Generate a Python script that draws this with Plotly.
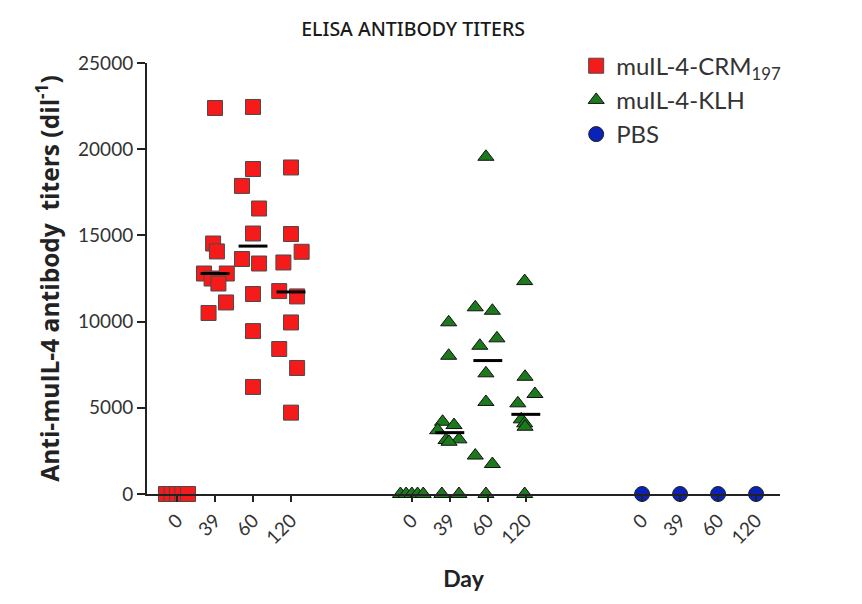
import plotly.graph_objects as go

# tick labels and groups
days = ["0", "39", "60", "120"]
groups = ["muIL-4-CRM<sub>197</sub>", "muIL-4-KLH", "PBS"]

# muIL-4-CRM197 titers per day
crm_d0 = [0, 0, 0, 0, 0]
crm_d39 = [22390, 14530, 14070, 12790, 12790, 12500, 12210, 11110, 10500]
crm_d60 = [22450, 18850, 17870, 16560, 15110, 13630, 13370, 11600, 9450, 6210]
crm_d120 = [18940, 15080, 14050, 13430, 11770, 11460, 9950, 8410, 7310, 4720]
crm_median = [12790, 14380, 11720]   # days 39, 60, 120

# muIL-4-KLH titers per day
klh_d0 = [0, 0, 0, 0, 0]
klh_d39 = [9960, 8020, 4190, 4000, 3700, 3130, 3170, 3030, 0, 0]
klh_d60 = [19560, 10830, 10630, 9030, 8600, 7000, 5340, 2230, 1740, 0]
klh_d120 = [12350, 6800, 5800, 5260, 4330, 4100, 3900, 0]
klh_median = [3560, 7740, 4620]

# PBS titers per day
pbs_d = [0, 0, 0, 0]

# horizontal scatter of the points (fraction of the day spacing)
crm_j = [[-0.29, -0.14, 0, 0.14, 0.29],
         [0, -0.05, 0.05, -0.29, 0.31, -0.09, 0.09, 0.29, -0.17],
         [0, 0, -0.29, 0.16, 0, -0.29, 0.16, 0, 0, 0],
         [0, 0, 0.28, -0.2, -0.31, 0.16, 0, -0.31, 0.16, 0]]
klh_j = [[-0.3, -0.15, 0, 0.15, 0.3],
         [-0.03, -0.03, -0.19, 0.11, -0.32, -0.1, 0.24, -0.02, -0.21, 0.24],
         [-0.05, -0.33, 0.12, 0.24, -0.21, -0.05, -0.05, -0.33, 0.12, -0.05],
         [-0.03, -0.02, 0.24, -0.21, -0.12, -0.03, -0.02, -0.03]]

base = [0, 6.18, 12.24]


def spread(g, cols, jit):
    xs, ys = [], []
    for i, vals in enumerate(cols):
        for v, j in zip(vals, jit[i]):
            xs.append(base[g] + i + j)
            ys.append(v)
    return xs, ys


def median_line(g, meds):
    xs, ys = [], []
    for i, m in enumerate(meds):
        xs += [base[g] + i + 1 - 0.38, base[g] + i + 1 + 0.38, None]
        ys += [m, m, None]
    return xs, ys


fig = go.Figure()

x, y = spread(0, [crm_d0, crm_d39, crm_d60, crm_d120], crm_j)
fig.add_trace(go.Scatter(x=x, y=y, mode="markers", name=groups[0], cliponaxis=False,
                         marker=dict(symbol="square", size=15, color="#f51b1b",
                                     line=dict(color="#4a4a4a", width=1))))

x, y = spread(1, [klh_d0, klh_d39, klh_d60, klh_d120], klh_j)
fig.add_trace(go.Scatter(x=x, y=y, mode="markers", name=groups[1], cliponaxis=False,
                         marker=dict(symbol="triangle-up", size=14, color="#1c7a1c",
                                     line=dict(color="#111", width=1))))

fig.add_trace(go.Scatter(x=[base[2] + i for i in range(4)], y=pbs_d, mode="markers",
                         name=groups[2], cliponaxis=False,
                         marker=dict(symbol="circle", size=15, color="#0a22b8",
                                     line=dict(color="#222", width=1))))

for g, meds in [(0, crm_median), (1, klh_median)]:
    x, y = median_line(g, meds)
    fig.add_trace(go.Scatter(x=x, y=y, mode="lines", showlegend=False, cliponaxis=False,
                             line=dict(color="black", width=3)))

tickvals = [base[g] + i for g in range(3) for i in range(4)]
ticktext = days * 3

fig.update_layout(
    width=862, height=604,
    margin=dict(l=139, r=90, t=55, b=118),
    plot_bgcolor="white", paper_bgcolor="white",
    font=dict(family="Lato", color="#333"),
    title=dict(text="ELISA ANTIBODY TITERS", x=0.47, xanchor="center",
               y=0.965, yanchor="middle",
               font=dict(family="Noto Sans", size=19.5, color="#1a1a1a", weight=500)),
    legend=dict(x=0.678, y=1.045, xanchor="left", yanchor="top",
                font=dict(size=24, color="#333"), bgcolor="rgba(0,0,0,0)",
                tracegroupgap=0, itemwidth=30),
    xaxis=dict(range=[-0.79, 15.87], tickvals=tickvals, ticktext=ticktext,
               tickangle=-45, tickfont=dict(size=19), showgrid=False, zeroline=False,
               showline=True, linecolor="#222", linewidth=2,
               ticks="outside", ticklen=6, tickcolor="#222", tickwidth=2,
               title=dict(text="<b>Day</b>", font=dict(size=23, color="#222"), standoff=24)),
    yaxis=dict(range=[0, 25000], tickvals=[0, 5000, 10000, 15000, 20000, 25000],
               tickformat="d",
               tickfont=dict(size=19), showgrid=False, zeroline=False,
               showline=True, linecolor="#222", linewidth=2,
               ticks="outside", ticklen=8, tickcolor="#222", tickwidth=2,
               title=dict(text="<b>Anti-muIL-4 antibody  titers (dil<sup>-1</sup>)</b>",
                          font=dict(family="Open Sans", size=24.5, color="#222"), standoff=12)),
)

fig.write_html("out.html")
